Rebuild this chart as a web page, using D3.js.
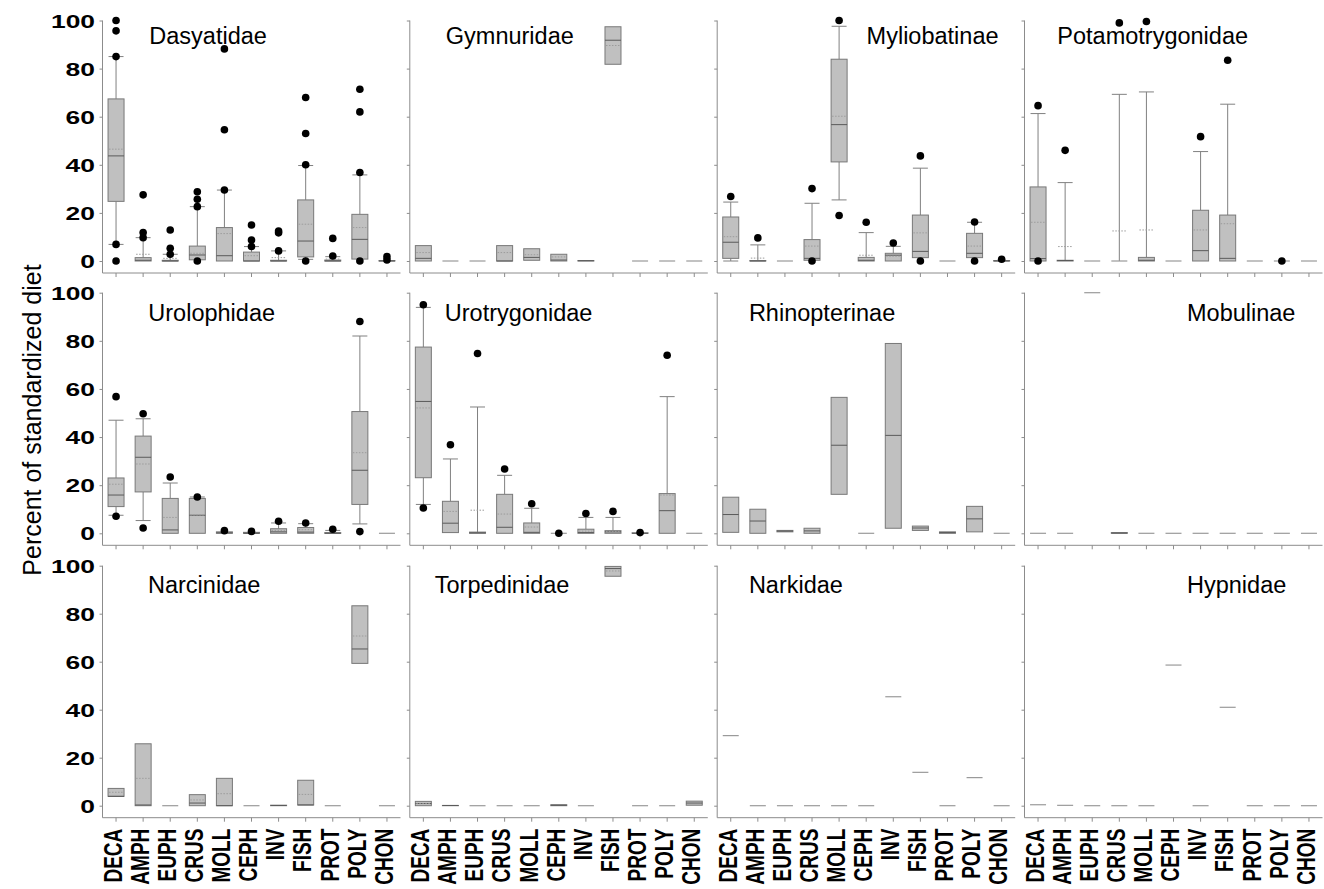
<!DOCTYPE html>
<html>
<head>
<meta charset="utf-8">
<script src="https://cdn.jsdelivr.net/npm/d3@7"></script>
<style>
  html, body { margin: 0; padding: 0; background: #fff; }
  svg { display: block; }
  text { font-family: "Liberation Sans", Arial, sans-serif; }
</style>
</head>
<body>
<svg id="chart" width="1324" height="889"></svg>
<script>
// ---------------- DATA ----------------
const categories = ["DECA","AMPH","EUPH","CRUS","MOLL","CEPH","INV","FISH","PROT","POLY","CHON"];
const familyNames = ["Dasyatidae","Gymnuridae","Myliobatinae","Potamotrygonidae",
                     "Urolophidae","Urotrygonidae","Rhinopterinae","Mobulinae",
                     "Narcinidae","Torpedinidae","Narkidae","Hypnidae"];
const yTicks = [0, 20, 40, 60, 80, 100];
const yAxisTitle = "Percent of standardized diet";

// each entry: [q1, median, q3, mean, whiskerLow, whiskerHigh, outliers]
const dasyatidae = [
  [24.8, 43.7, 67.4, 46.5, 6.9, 85, [100, 95.7, 85, 6.9, 0]],
  [0, 0.3, 1.4, 2.8, null, 9.7, [27.5, 11.8, 9.7]],
  [0, 0, 0.3, 1.1, null, 2.8, [12.9, 5.3, 2.8]],
  [0.5, 2.5, 6.2, 3.2, null, 22.6, [28.8, 25.7, 22.6, 0]],
  [0, 2.2, 13.9, 11.4, null, 29.5, [88.2, 54.6, 29.5]],
  [0, 0, 3.7, 2.2, null, 6, [15, 8.7, 6]],
  [0, 0, 0.3, 1.4, null, 4.2, [12.5, 11.7, 4.2]],
  [1.7, 8.3, 25.4, 15.3, 0.7, 39.7, [68, 53, 40, 0]],
  [0, 0, 0.4, 0.8, null, 1.8, [9.4, 2.1]],
  [0.8, 9, 19.4, 13.9, null, 35.8, [71.4, 62, 36.8, 0]],
  [0, 0, 0.2, null, null, null, [1.8, 0.4]]
];
const gymnuridae = [
  [0, 1.1, 6.4, 3.5, null, null, []],
  [0, 0, 0, null, null, null, []],
  [0, 0, 0, null, null, null, []],
  [0, 0, 6.4, 3.5, null, null, []],
  [0.3, 1.5, 5.1, 2.6, null, null, []],
  [0, 0.4, 2.8, 1.7, null, null, []],
  [0, 0.1, 0.2, null, null, null, []],
  [81.8, 91.8, 97.4, 89.6, null, null, []],
  [0, 0, 0, null, null, null, []],
  [0, 0, 0, null, null, null, []],
  [0, 0, 0, null, null, null, []]
];
const myliobatinae = [
  [1.1, 7.8, 18.3, 10.1, 0, 24.5, [26.8]],
  [0, 0, 0.2, 1.2, null, 6.7, [9.6]],
  [0, 0, 0, null, null, null, []],
  [0.3, 1.1, 8.9, 6.2, null, 24, [30.1, 0]],
  [41.2, 56.7, 83.9, 60.2, 25.4, 97.6, [100, 18.9]],
  [0, 0.3, 1.5, 2.4, null, 11.8, [16.1]],
  [0, 2.4, 3.2, 2.0, null, 6.1, [7.5]],
  [1.4, 4, 19.1, 11.7, null, 38.6, [43.7, 0]],
  [0, 0, 0, null, null, null, []],
  [1.4, 3.2, 11.5, 6.2, null, 16.1, [16.2, 0]],
  [0, 0, 0.2, null, null, null, [0.7]]
];
const potamotrygonidae = [
  [0, 1, 30.8, 16.1, null, 61.3, [64.6, 0]],
  [0, 0.2, 0.3, 6, null, 32.6, [46]],
  [0, 0, 0, null, null, null, []],
  [0, 0, 0, 12.5, null, 69.3, [99]],
  [0, 0.3, 1.5, 12.9, null, 70.3, [99.6]],
  [0, 0, 0, null, null, null, []],
  [0, 4.3, 21.1, 12.9, null, 45.5, [51.7]],
  [0, 1.1, 19.1, 15.5, null, 65.2, [83.5]],
  [0, 0, 0, null, null, null, []],
  [0, 0, 0, null, null, null, [0]],
  [0, 0, 0, null, null, null, []]
];
const urolophidae = [
  [11.1, 15.9, 23, 20.4, 7.5, 47, [56.8, 7.1]],
  [17.2, 31.6, 40.4, 28.8, 5.3, 47.6, [49.7, 2.2]],
  [0, 1.4, 14.5, 6.6, null, 20.9, [23.4]],
  [0, 7.5, 14.5, 7.6, null, 15.1, [15.1]],
  [0, 0.2, 0.6, null, null, null, [1.1]],
  [0, 0, 0.4, null, null, null, [0.8]],
  [0, 0.6, 1.9, 1.2, null, 4.3, [5]],
  [0, 0.5, 2.4, 1.5, null, 4, [4.3]],
  [0, 0, 0.3, null, null, 1.2, [1.7]],
  [12, 26.2, 50.6, 33.5, 3.9, 82, [88, 0.7]],
  [0, 0, 0, null, null, null, []]
];
const urotrygonidae = [
  [23.1, 54.8, 77.4, 52.1, 12, 93.9, [95, 10.5]],
  [0.3, 4.2, 13.3, 9.1, null, 30.9, [36.8]],
  [0, 0.2, 0.5, 9.6, null, 52.5, [74.7]],
  [0, 2.5, 16.2, 8, null, 24.1, [26.7]],
  [0, 0.4, 4.3, 2.6, null, 10.4, [12.3]],
  [0, 0, 0, null, null, null, [0]],
  [0, 0.3, 1.7, 0.9, null, 6.6, [8.2]],
  [0, 0.6, 1.1, 0.8, null, 6.6, [9.1]],
  [0, 0, 0.2, null, null, null, [0.3]],
  [0, 9.4, 16.5, 15.9, null, 56.8, [74]],
  [0, 0, 0, null, null, null, []]
];
const rhinopterinae = [
  [0.4, 7.8, 15, null, null, null, []],
  [0, 5.1, 10, null, null, null, []],
  [0.6, 0.9, 1.2, null, null, null, []],
  [0, 1, 2.1, null, null, null, []],
  [16.2, 36.6, 56.5, null, null, null, []],
  [0, 0, 0, null, null, null, []],
  [2.1, 40.7, 78.9, null, null, null, []],
  [1.2, 2.2, 3, null, null, null, []],
  [0, 0.3, 0.6, null, null, null, []],
  [0.6, 6, 11.2, null, null, null, []],
  [0, 0, 0, null, null, null, []]
];
const mobulinae = [
  [0, 0, 0, null, null, null, []],
  [0, 0, 0, null, null, null, []],
  [100, 100, 100, null, null, null, []],
  [0, 0.1, 0.3, null, null, null, []],
  [0, 0, 0, null, null, null, []],
  [0, 0, 0, null, null, null, []],
  [0, 0, 0, null, null, null, []],
  [0, 0, 0, null, null, null, []],
  [0, 0, 0, null, null, null, []],
  [0, 0, 0, null, null, null, []],
  [0, 0, 0, null, null, null, []]
];
const narcinidae = [
  [3.9, 3.9, 7.2, 5.6, null, null, []],
  [0, 0.3, 25.8, 11.4, null, null, []],
  [0, 0, 0, null, null, null, []],
  [0, 1.1, 4.6, 2.4, null, null, []],
  [0, 0, 11.4, 5, null, null, []],
  [0, 0, 0, null, null, null, []],
  [0, 0.1, 0.2, null, null, null, []],
  [0.3, 0.3, 10.6, 4.7, null, null, []],
  [0, 0, 0, null, null, null, []],
  [59.3, 65.3, 83.3, 70.7, null, null, []],
  [0, 0, 0, null, null, null, []]
];
const torpedinidae = [
  [0, 0.9, 1.8, 0.9, null, null, []],
  [0, 0.1, 0.1, null, null, null, []],
  [0, 0, 0, null, null, null, []],
  [0, 0, 0, null, null, null, []],
  [0, 0, 0, null, null, null, []],
  [0, 0.2, 0.4, null, null, null, []],
  [0, 0, 0, null, null, null, []],
  [95.6, 98.8, 99.7, 97.8, null, null, []],
  [0, 0, 0, null, null, null, []],
  [0, 0, 0, null, null, null, []],
  [0.2, 1.1, 1.9, null, null, null, []]
];
const narkidae = [
  [29.2, 29.2, 29.2, null, null, null, []],
  [0, 0, 0, null, null, null, []],
  [0, 0, 0, null, null, null, []],
  [0, 0, 0, null, null, null, []],
  [0, 0, 0, null, null, null, []],
  [0, 0, 0, null, null, null, []],
  [45.4, 45.4, 45.4, null, null, null, []],
  [13.9, 13.9, 13.9, null, null, null, []],
  [0, 0, 0, null, null, null, []],
  [11.7, 11.7, 11.7, null, null, null, []],
  [0, 0, 0, null, null, null, []]
];
const hypnidae = [
  [0.4, 0.4, 0.4, null, null, null, []],
  [0.15, 0.15, 0.15, null, null, null, []],
  [0, 0, 0, null, null, null, []],
  [0, 0, 0, null, null, null, []],
  [0, 0, 0, null, null, null, []],
  [58.6, 58.6, 58.6, null, null, null, []],
  [0, 0, 0, null, null, null, []],
  [41, 41, 41, null, null, null, []],
  [0, 0, 0, null, null, null, []],
  [0, 0, 0, null, null, null, []],
  [0, 0, 0, null, null, null, []]
];
const familyData = [dasyatidae, gymnuridae, myliobatinae, potamotrygonidae,
                    urolophidae, urotrygonidae, rhinopterinae, mobulinae,
                    narcinidae, torpedinidae, narkidae, hypnidae];

// ---------------- LAYOUT ----------------
const colX = [102.5, 409.8, 717.2, 1024.5];
const rowTop = [20.5, 292.7, 565.7];
const rowZero = [261, 533.3, 805.7];
const panelW = 298;
const xAxisGap = 12;
const titleDx = [46.8, 36, 149.4, 32.8, 45.8, 35, 31.7, 162.5, 45.5, 25, 31.7, 162.5];
const titleBase = [43.5, 321, 593];
const sx = 1.39; // horizontal stretch of axis text
const axisColor = "#8c8c8c";

const svg = d3.select("#chart");

familyNames.forEach((name, i) => {
  const col = i % 4, row = Math.floor(i / 4);
  const x0 = colX[col];
  const x = d3.scaleBand().domain(categories).range([x0, x0 + panelW]).padding(0);
  const y = d3.scaleLinear().domain([0, 100]).range([rowZero[row], rowTop[row]]);
  const axisY = rowZero[row] + xAxisGap;
  const g = svg.append("g");

  // axes lines
  g.append("line").attr("x1", x0).attr("x2", x0).attr("y1", y(100)).attr("y2", axisY)
    .attr("stroke", axisColor).attr("stroke-width", 1);
  g.append("line").attr("x1", x0).attr("x2", x0 + panelW).attr("y1", axisY).attr("y2", axisY)
    .attr("stroke", axisColor).attr("stroke-width", 1);

  // y axis ticks
  const ya = g.append("g").attr("transform", `translate(${x0},0)`)
    .call(d3.axisLeft(y).tickValues(yTicks).tickSize(3).tickPadding(2.4)
      .tickFormat(col === 0 ? d3.format("d") : () => ""));
  ya.select(".domain").remove();
  ya.selectAll(".tick line").attr("stroke", axisColor);
  ya.selectAll(".tick text")
    .attr("font-family", '"Liberation Sans", Arial, sans-serif')
    .attr("font-size", 19).attr("font-weight", "bold").attr("fill", "#000")
    .attr("dy", "0.35em")
    .attr("transform", `scale(${sx},1)`);

  // x axis ticks
  const xa = g.append("g").attr("transform", `translate(0,${axisY})`)
    .call(d3.axisBottom(x).tickSize(4).tickFormat(() => ""));
  xa.select(".domain").remove();
  xa.selectAll(".tick line").attr("stroke", axisColor);
  xa.selectAll(".tick text").remove();

  if (row === 2) {
    g.selectAll(".xlab").data(categories).enter().append("text")
      .attr("transform", c => `translate(${x(c) + x.bandwidth() / 2},${axisY + 11}) scale(${sx},1) rotate(-90)`)
      .attr("text-anchor", "end")
      .attr("dy", "0.22em")
      .attr("font-size", 19).attr("font-weight", "bold").attr("fill", "#000")
      .text(c => c);
  }

  // boxes
  const data = familyData[i];
  const bw = 16, cw = 15;
  data.forEach((d, k) => {
    const [q1, med, q3, mean, lo, hi, out] = d;
    const cx = x(categories[k]) + x.bandwidth() / 2;
    const wc = "#808080";
    if (hi != null && hi > q3) {
      g.append("line").attr("x1", cx).attr("x2", cx).attr("y1", y(q3)).attr("y2", y(hi)).attr("stroke", wc);
      g.append("line").attr("x1", cx - cw / 2).attr("x2", cx + cw / 2).attr("y1", y(hi)).attr("y2", y(hi)).attr("stroke", wc);
    }
    if (lo != null && lo < q1) {
      g.append("line").attr("x1", cx).attr("x2", cx).attr("y1", y(q1)).attr("y2", y(lo)).attr("stroke", wc);
      g.append("line").attr("x1", cx - cw / 2).attr("x2", cx + cw / 2).attr("y1", y(lo)).attr("y2", y(lo)).attr("stroke", wc);
    }
    if (q3 - q1 > 0.05) {
      g.append("rect").attr("x", cx - bw / 2).attr("width", bw)
        .attr("y", y(q3)).attr("height", y(q1) - y(q3))
        .attr("fill", "#c0c0c0").attr("stroke", "#787878").attr("stroke-width", 1);
      g.append("line").attr("x1", cx - bw / 2).attr("x2", cx + bw / 2).attr("y1", y(med)).attr("y2", y(med))
        .attr("stroke", "#5a5a5a").attr("stroke-width", 1);
    } else {
      g.append("line").attr("x1", cx - bw / 2).attr("x2", cx + bw / 2).attr("y1", y(q1)).attr("y2", y(q1))
        .attr("stroke", "#9a9a9a").attr("stroke-width", 1.2);
    }
    if (mean != null) {
      g.append("line").attr("x1", cx - bw / 2 + 1).attr("x2", cx + bw / 2 - 1).attr("y1", y(mean)).attr("y2", y(mean))
        .attr("stroke", "#9c9c9c").attr("stroke-width", 1).attr("stroke-dasharray", "1.5,1.5");
    }
    out.forEach(v => {
      g.append("circle").attr("cx", cx).attr("cy", y(v)).attr("r", 3.8).attr("fill", "#000");
    });
  });

  // title
  g.append("text").attr("x", x0 + titleDx[i]).attr("y", titleBase[row])
    .attr("font-size", 23.5).attr("fill", "#000").text(name);
});

// y axis title
svg.append("text")
  .attr("transform", `translate(41,420) rotate(-90)`)
  .attr("text-anchor", "middle")
  .attr("font-size", 25).attr("fill", "#000")
  .text(yAxisTitle);
</script>
</body>
</html>
